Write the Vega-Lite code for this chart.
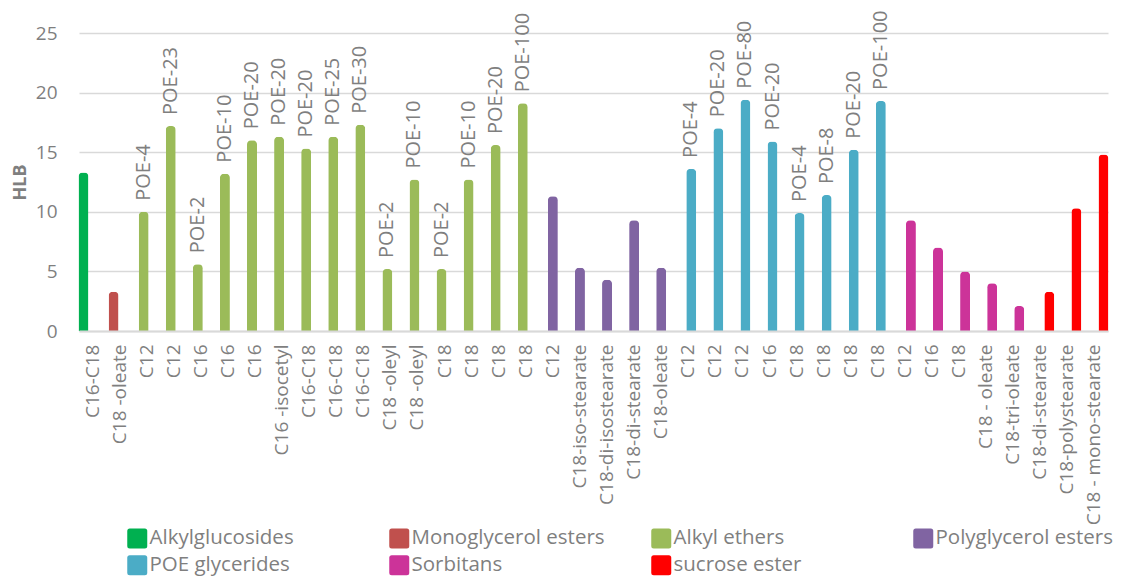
{
  "$schema": "https://vega.github.io/schema/vega-lite/v6.json",
  "width": 1029,
  "height": 298,
  "autosize": {"type": "none"},
  "padding": {"left": 79, "top": 33, "right": 13, "bottom": 245},
  "background": "white",
  "config": {"view": {"stroke": null}, "font": "Open Sans"},
  "data": {
    "values": [
      {"key": "C16-C18@0", "group": "Alkylglucosides", "hlb": 13.3, "poe": ""},
      {"key": "C18 -oleate@1", "group": "Monoglycerol esters", "hlb": 3.3, "poe": ""},
      {"key": "C12@2", "group": "Alkyl ethers", "hlb": 10.0, "poe": "POE-4"},
      {"key": "C12@3", "group": "Alkyl ethers", "hlb": 17.2, "poe": "POE-23"},
      {"key": "C16@4", "group": "Alkyl ethers", "hlb": 5.6, "poe": "POE-2"},
      {"key": "C16@5", "group": "Alkyl ethers", "hlb": 13.2, "poe": "POE-10"},
      {"key": "C16@6", "group": "Alkyl ethers", "hlb": 16.0, "poe": "POE-20"},
      {"key": "C16 -isocetyl@7", "group": "Alkyl ethers", "hlb": 16.3, "poe": "POE-20"},
      {"key": "C16-C18@8", "group": "Alkyl ethers", "hlb": 15.3, "poe": "POE-20"},
      {"key": "C16-C18@9", "group": "Alkyl ethers", "hlb": 16.3, "poe": "POE-25"},
      {"key": "C16-C18@10", "group": "Alkyl ethers", "hlb": 17.3, "poe": "POE-30"},
      {"key": "C18 -oleyl@11", "group": "Alkyl ethers", "hlb": 5.2, "poe": "POE-2"},
      {"key": "C18 -oleyl@12", "group": "Alkyl ethers", "hlb": 12.7, "poe": "POE-10"},
      {"key": "C18@13", "group": "Alkyl ethers", "hlb": 5.2, "poe": "POE-2"},
      {"key": "C18@14", "group": "Alkyl ethers", "hlb": 12.7, "poe": "POE-10"},
      {"key": "C18@15", "group": "Alkyl ethers", "hlb": 15.6, "poe": "POE-20"},
      {"key": "C18@16", "group": "Alkyl ethers", "hlb": 19.1, "poe": "POE-100"},
      {"key": "C12@17", "group": "Polyglycerol esters", "hlb": 11.3, "poe": ""},
      {"key": "C18-iso-stearate@18", "group": "Polyglycerol esters", "hlb": 5.3, "poe": ""},
      {"key": "C18-di-isostearate@19", "group": "Polyglycerol esters", "hlb": 4.3, "poe": ""},
      {"key": "C18-di-stearate@20", "group": "Polyglycerol esters", "hlb": 9.3, "poe": ""},
      {"key": "C18-oleate@21", "group": "Polyglycerol esters", "hlb": 5.3, "poe": ""},
      {"key": "C12@22", "group": "POE glycerides", "hlb": 13.6, "poe": "POE-4"},
      {"key": "C12@23", "group": "POE glycerides", "hlb": 17.0, "poe": "POE-20"},
      {"key": "C12@24", "group": "POE glycerides", "hlb": 19.4, "poe": "POE-80"},
      {"key": "C16@25", "group": "POE glycerides", "hlb": 15.9, "poe": "POE-20"},
      {"key": "C18@26", "group": "POE glycerides", "hlb": 9.9, "poe": "POE-4"},
      {"key": "C18@27", "group": "POE glycerides", "hlb": 11.4, "poe": "POE-8"},
      {"key": "C18@28", "group": "POE glycerides", "hlb": 15.2, "poe": "POE-20"},
      {"key": "C18@29", "group": "POE glycerides", "hlb": 19.3, "poe": "POE-100"},
      {"key": "C12@30", "group": "Sorbitans", "hlb": 9.3, "poe": ""},
      {"key": "C16@31", "group": "Sorbitans", "hlb": 7.0, "poe": ""},
      {"key": "C18@32", "group": "Sorbitans", "hlb": 5.0, "poe": ""},
      {"key": "C18 - oleate@33", "group": "Sorbitans", "hlb": 4.0, "poe": ""},
      {"key": "C18-tri-oleate@34", "group": "Sorbitans", "hlb": 2.1, "poe": ""},
      {"key": "C18-di-stearate@35", "group": "sucrose ester", "hlb": 3.3, "poe": ""},
      {"key": "C18-polystearate@36", "group": "sucrose ester", "hlb": 10.3, "poe": ""},
      {"key": "C18 - mono-stearate@37", "group": "sucrose ester", "hlb": 14.8, "poe": ""}
    ]
  },
  "encoding": {
    "x": {
      "field": "key",
      "type": "nominal",
      "sort": null,
      "scale": {"paddingInner": 0, "paddingOuter": 0},
      "axis": {
        "title": null,
        "labelExpr": "slice(datum.value, 0, indexof(datum.value, '@'))",
        "labelAngle": 270,
        "labelAlign": "right",
        "labelBaseline": "middle",
        "labelPadding": 13,
        "labelFontSize": 19,
        "labelColor": "#7f7f7f",
        "labelLimit": 300,
        "ticks": false,
        "domainColor": "#d9d9d9",
        "domainWidth": 2,
        "grid": false,
        "zindex": 1
      }
    },
    "xOffset": {
      "field": "group",
      "type": "nominal",
      "sort": ["Alkylglucosides", "Monoglycerol esters", "Alkyl ethers", "Polyglycerol esters", "POE glycerides", "Sorbitans", "sucrose ester"],
      "scale": {"paddingInner": 0, "paddingOuter": 1.02}
    },
    "y": {
      "field": "hlb",
      "type": "quantitative",
      "scale": {"domain": [0, 25]},
      "axis": {
        "title": "HLB",
        "titleFontSize": 18,
        "titleFontWeight": "bold",
        "titleColor": "#7f7f7f",
        "titlePadding": 6,
        "values": [0, 5, 10, 15, 20, 25],
        "labelFontSize": 19,
        "labelColor": "#7f7f7f",
        "labelPadding": 22,
        "ticks": false,
        "domain": false,
        "grid": true,
        "gridColor": "#d9d9d9",
        "gridWidth": 1.5
      }
    }
  },
  "layer": [
    {
      "mark": {"type": "bar", "width": 10, "cornerRadiusEnd": 4},
      "encoding": {
        "color": {
          "field": "group",
          "type": "nominal",
          "scale": {
            "domain": ["Alkylglucosides", "Monoglycerol esters", "Alkyl ethers", "Polyglycerol esters", "POE glycerides", "Sorbitans", "sucrose ester"],
            "range": ["#00B050", "#C0504D", "#9BBB59", "#8064A2", "#4BACC6", "#CC3399", "#FF0000"]
          },
          "legend": {
            "title": null,
            "orient": "none",
            "legendX": 48,
            "legendY": 495,
            "direction": "horizontal",
            "columns": 4,
            "gridAlign": "all",
            "symbolType": "M -0.75 -1 L 0.75 -1 Q 1 -1 1 -0.75 L 1 0.75 Q 1 1 0.75 1 L -0.75 1 Q -1 1 -1 0.75 L -1 -0.75 Q -1 -1 -0.75 -1 Z",
            "symbolSize": 400,
            "symbolStrokeWidth": 0,
            "symbolOpacity": 1,
            "labelFontSize": 20.5,
            "labelColor": "#7f7f7f",
            "labelOffset": 2,
            "labelLimit": 300,
            "columnPadding": 46,
            "rowPadding": 6
          }
        }
      }
    },
    {
      "mark": {"type": "text", "angle": 270, "align": "left", "baseline": "middle", "dx": 11, "fontSize": 20, "color": "#7f7f7f"},
      "encoding": {"text": {"field": "poe"}}
    }
  ]
}
